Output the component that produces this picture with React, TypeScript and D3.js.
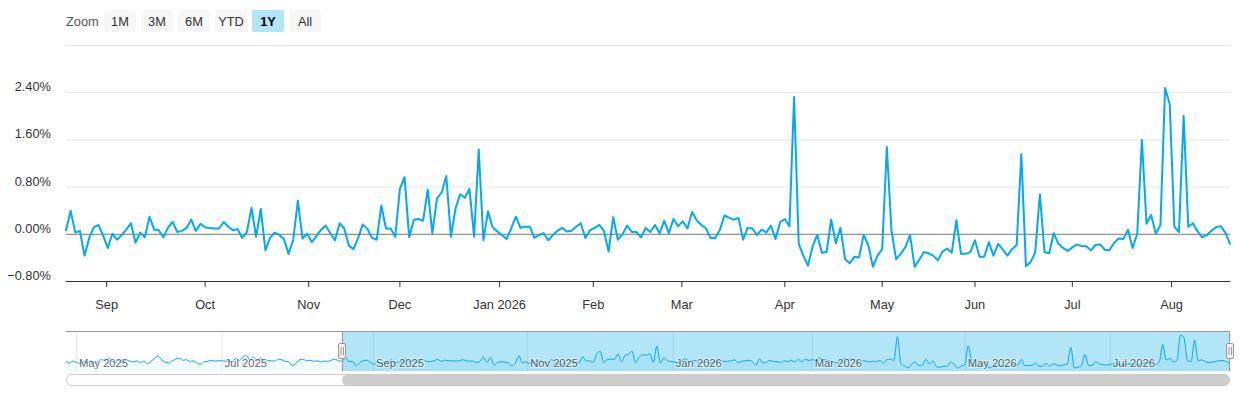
import * as d3 from 'd3';

// earlier history, only visible in the navigator (Apr - Aug 2025)
const earlierValues = [
  0.05, -0.1, 0.08, -0.05, -0.15, 0.02, -0.08, 0.1, -0.12, 0.05, 0.2,
  0.15, 0.35, 0.05,
  -0.05, 0.1, 0.05, 0.15, 0.08, 0.0, 0.1, -0.05, 0.05, -0.15, 0.05, 0.3,
  0.55, 0.2, 0.0, -0.1, 0.1, 0.25, 0.35, 0.15, 0.2, 0.05, 0.1, -0.1,
  -0.2, 0.0, 0.05, 0.15, 0.08, 0.1, 0.12, 0.05, 0.1, 0.0, 0.3, 0.1,
  0.45, 0.6, 0.15, 0.45, 0.1, 0.35, 0.05, 0.12, 0.1, 0.08, 0.25, 0.2,
  0.05, 0.0, -0.35, -0.1, 0.2, 0.25, 0.1, 0.15, 0.05, 0.1, 0.0, 0.08,
  0.05, 0.15, 0.25, 0.1,
];

// daily change in %, one value per trading day (Aug 2025 - Aug 2026)
const dailyValues = [
  0.06, 0.39, 0.02, 0.05, -0.37, -0.07, 0.11, 0.15, -0.03, -0.24,
  0.0, -0.1, -0.02, 0.07, 0.18, -0.15, 0.02, -0.06, 0.29, 0.07,
  0.06, -0.06, 0.11, 0.2, 0.03, 0.05, 0.1, 0.24, 0.05, 0.17,
  0.11, 0.1, 0.09, 0.09, 0.2, 0.12, 0.06, 0.08, -0.07, 0.03,
  0.44, -0.05, 0.42, -0.28, -0.07, 0.02, -0.02, -0.09, -0.34, -0.1,
  0.56, -0.08, 0.0, -0.14, -0.04, 0.07, 0.14, 0.01, -0.11, 0.18,
  0.09, -0.2, -0.26, -0.07, 0.16, 0.08, -0.07, -0.1, 0.48, 0.09,
  0.09, -0.05, 0.76, 0.96, -0.06, 0.24, 0.25, 0.22, 0.75, 0.01,
  0.6, 0.7, 0.98, -0.05, 0.43, 0.67, 0.61, 0.76, -0.05, 1.43,
  -0.11, 0.38, 0.11, 0.04, -0.02, -0.09, 0.09, 0.29, 0.1, 0.12,
  0.12, -0.07, -0.02, 0.01, -0.11, -0.02, 0.05, 0.1, 0.04, 0.05,
  0.12, 0.18, -0.07, 0.06, 0.1, 0.15, 0.05, -0.3, 0.28, -0.1,
  -0.01, 0.14, 0.03, 0.03, -0.06, 0.1, 0.03, 0.15, 0.01, 0.22,
  0.01, 0.25, 0.13, 0.21, 0.09, 0.37, 0.23, 0.15, 0.09, -0.07,
  -0.07, 0.07, 0.31, 0.27, 0.24, 0.27, -0.1, 0.1, 0.09, -0.02,
  0.07, 0.02, 0.14, -0.09, 0.2, 0.25, 0.13, 2.32, -0.17, -0.37,
  -0.54, -0.21, -0.02, -0.32, -0.31, 0.24, -0.16, 0.1, -0.43, -0.5,
  -0.39, -0.4, -0.02, -0.19, -0.56, -0.37, -0.26, 1.47, 0.06, -0.43,
  -0.34, -0.23, -0.02, -0.56, -0.44, -0.31, -0.33, -0.37, -0.45, -0.3,
  -0.25, -0.32, 0.23, -0.34, -0.34, -0.31, -0.11, -0.39, -0.39, -0.14,
  -0.37, -0.17, -0.27, -0.37, -0.26, -0.19, 1.35, -0.55, -0.48, -0.32,
  0.67, -0.31, -0.33, 0.01, -0.17, -0.24, -0.29, -0.23, -0.18, -0.21,
  -0.21, -0.28, -0.19, -0.18, -0.27, -0.28, -0.15, -0.08, -0.09, 0.07,
  -0.24, 0.0, 1.59, 0.17, 0.32, 0.0, 0.15, 2.47, 2.2, 0.12,
  0.03, 2.0, 0.12, 0.18, 0.04, -0.06, -0.02, 0.05, 0.11, 0.13,
  0.02, -0.17,
];

const yTickValues = [-0.8, 0, 0.8, 1.6, 2.4, 3.2];

// month ticks, as positions in trading-day index of dailyValues
const monthLabels = ['Sep', 'Oct', 'Nov', 'Dec', 'Jan 2026', 'Feb', 'Mar', 'Apr', 'May', 'Jun', 'Jul', 'Aug'];
const monthIndex = [8.78, 30, 52.34, 72, 93.5, 113.7, 132.8, 155, 176, 196, 217, 238.4];

// navigator ticks, index in the full history (earlier + daily)
const navLabels = ['May 2025', 'Jul 2025', 'Sep 2025', 'Nov 2025', 'Jan 2026', 'Mar 2026', 'May 2026', 'Jul 2026'];
const navIndex = [2.8, 44, 86.78, 130.34, 171.5, 210.8, 254, 295];

const zoomButtons = ['1M', '3M', '6M', 'YTD', '1Y', 'All'];
const selectedButton = '1Y';

const W = 1240;
const H = 400;
const left = 66;
const right = 1230;
const top = 45;
const bottom = 281;
const navTop = 331;
const navBottom = 371;
const lineColor = '#03a9f4';
const font = 'Helvetica, Arial, "Liberation Sans", sans-serif';

const App = () => {
  const x = d3.scaleLinear().domain([0, dailyValues.length - 1]).range([left, right]);
  const y = d3.scaleLinear().domain([-0.8, 3.2]).range([bottom, top]);

  const line = d3.line<number>()
    .x((_, i) => x(i))
    .y(d => y(d));

  const allValues = earlierValues.concat(dailyValues);
  const nx = d3.scaleLinear().domain([0, allValues.length - 1]).range([left, right]);
  const ny = d3.scaleLinear().domain(d3.extent(allValues) as [number, number]).range([368, 335]);

  const navLine = d3.line<number>()
    .x((_, i) => nx(i))
    .y(d => ny(d))
    .curve(d3.curveMonotoneX);
  const navArea = d3.area<number>()
    .x((_, i) => nx(i))
    .y0(navBottom)
    .y1(d => ny(d))
    .curve(d3.curveMonotoneX);

  const selStart = nx(earlierValues.length);
  const selEnd = nx(allValues.length - 1);

  const fmt = d3.format('.2f');

  return (
    <svg width={W} height={H} style={{ position: 'absolute', left: 0, top: 0, fontFamily: font }}>
      <rect width={W} height={H} fill="#fff" />

      {/* range selector */}
      <text x={66} y={26} fontSize={12.8} fill="#555">Zoom</text>
      {zoomButtons.map((b, i) => {
        const bx = 104 + i * 37;
        const sel = b === selectedButton;
        return (
          <g key={b}>
            <rect x={bx} y={10} width={32} height={22} rx={2} fill={sel ? '#b3e5f8' : '#f7f7f7'} />
            <text x={bx + 16} y={25.5} fontSize={12.8} textAnchor="middle"
              fill={sel ? '#000' : '#333'} fontWeight={sel ? 'bold' : 'normal'}>{b}</text>
          </g>
        );
      })}

      {/* y grid + labels */}
      {yTickValues.map((v, i) => (
        <g key={v}>
          {v !== -0.8 && (
            <line x1={left} x2={right} y1={y(v) + 0.5} y2={y(v) + 0.5} stroke="#e6e6e6" />
          )}
          {i < yTickValues.length - 1 && (
            <text x={51} y={y(v) - 1} fontSize={12.8} textAnchor="end" fill="#333">
              {fmt(v)}%
            </text>
          )}
        </g>
      ))}

      {/* zero line */}
      <line x1={left} x2={right} y1={y(0) + 0.5} y2={y(0) + 0.5} stroke="#808080" />

      {/* x axis */}
      <line x1={left} x2={right} y1={bottom + 0.5} y2={bottom + 0.5} stroke="#333" />
      {monthLabels.map((m, i) => (
        <g key={m}>
          <line x1={x(monthIndex[i])} x2={x(monthIndex[i])} y1={bottom} y2={bottom + 6} stroke="#333" />
          <text x={x(monthIndex[i])} y={308.5} fontSize={12.8} textAnchor="middle" fill="#333">{m}</text>
        </g>
      ))}

      {/* series */}
      <path d={line(dailyValues) || ''} fill="none" stroke={lineColor} strokeWidth={2}
        strokeLinejoin="round" strokeLinecap="round" />

      {/* navigator */}
      <path d={navArea(allValues) || ''} fill={lineColor} fillOpacity={0.05} />
      {navLabels.map((l, i) => (
        <line key={l} x1={nx(navIndex[i]) + 0.5} x2={nx(navIndex[i]) + 0.5} y1={navTop} y2={navBottom} stroke="#e6e6e6" />
      ))}
      <rect x={selStart} y={navTop} width={selEnd - selStart} height={navBottom - navTop} fill="rgba(0,170,230,0.3)" />
      <path d={navLine(allValues) || ''} fill="none" stroke={lineColor} strokeWidth={1} />
      {navLabels.map((l, i) => (
        <text key={l} x={nx(navIndex[i]) + 3} y={367} fontSize={11.2} fill="#000" opacity={0.6}
          stroke="#fff" strokeWidth={2} paintOrder="stroke" strokeLinejoin="round">{l}</text>
      ))}
      <path
        d={`M${left},${navTop + 0.5}L${right},${navTop + 0.5}M${selStart + 0.5},${navTop}L${selStart + 0.5},${navBottom}M${selEnd - 0.5},${navTop}L${selEnd - 0.5},${navBottom}`}
        fill="none" stroke="#999" />
      {[selStart, selEnd].map((hx, i) => (
        <g key={i} transform={`translate(${Math.round(hx)},${(navTop + navBottom) / 2})`}>
          <rect x={-3.5} y={-7.5} width={7} height={15} rx={1.5} fill="#f2f2f2" stroke="#999" />
          <line x1={-1} x2={-1} y1={-4} y2={4} stroke="#999" />
          <line x1={1.5} x2={1.5} y1={-4} y2={4} stroke="#999" />
        </g>
      ))}

      {/* scrollbar */}
      <rect x={left + 0.5} y={374.5} width={right - left - 1} height={11} rx={5.5} fill="#fff" stroke="#ccc" />
      <rect x={selStart} y={374.5} width={selEnd - selStart} height={11} rx={5.5} fill="#ccc" />
    </svg>
  );
};

export default App;
